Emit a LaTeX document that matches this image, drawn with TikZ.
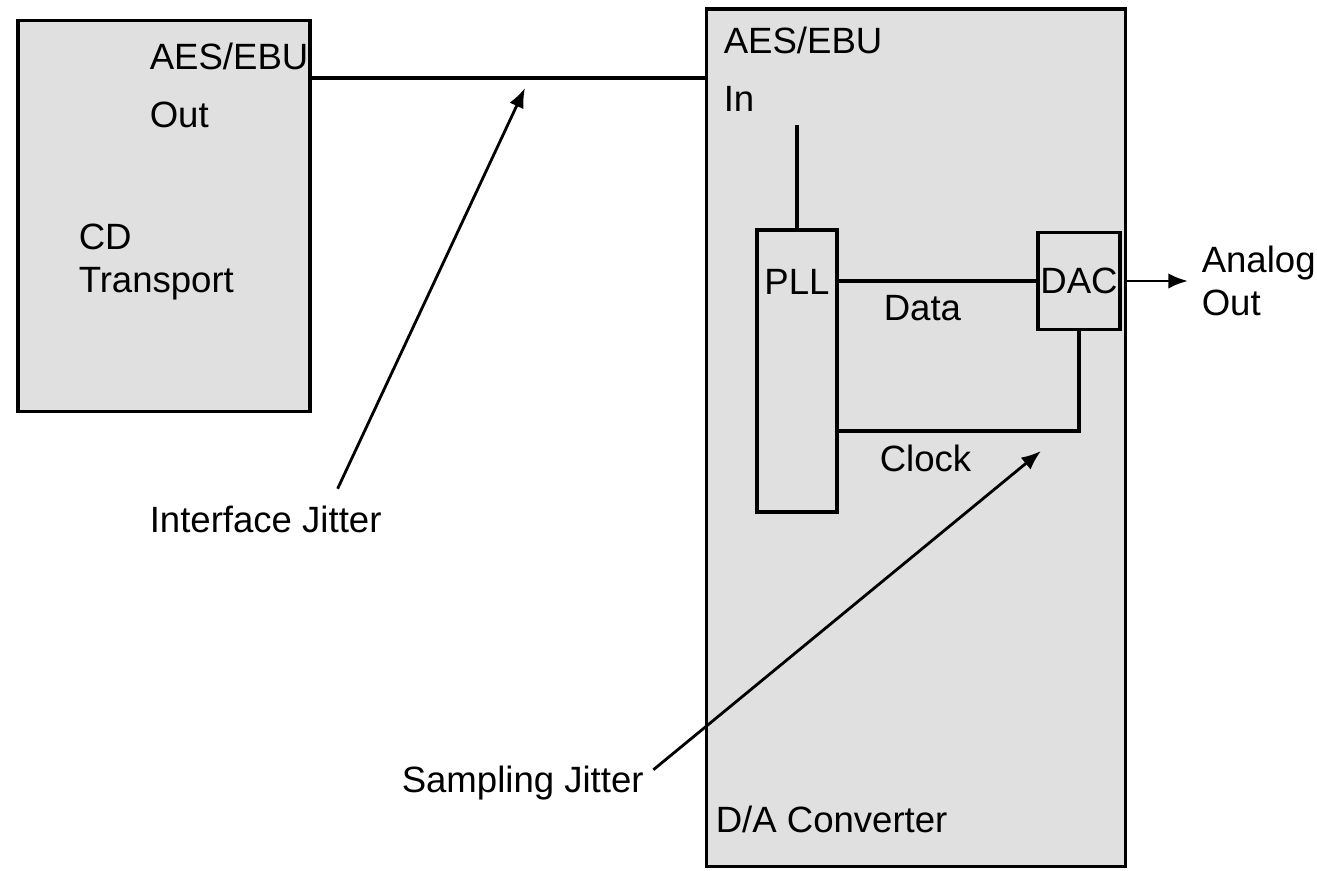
\documentclass[tikz,border=0pt]{standalone}
\usepackage{fontspec}
\setmainfont{Liberation Sans}
\usepackage{tikz}
\usetikzlibrary{shapes,arrows.meta,positioning}

\begin{document}
\begin{tikzpicture}[x=0.01cm, y=-0.01cm, line width=1pt, font=\fontsize{10.4}{12.5}\selectfont]
    % Styles
    \tikzstyle{unit}=[rectangle, draw=black, fill=black!12, inner sep=0pt]
    \tikzstyle{txt}=[inner sep=0pt, anchor=base west]
    \tikzstyle{arrow}=[-{Latex[length=5.6pt, width=4.4pt]}, line width=0.8pt]

    \useasboundingbox (0,0) rectangle (1317,871);

    % Boxes
    \node (cd) [unit, minimum width=2.92cm, minimum height=3.91cm] at (164,216) {};
    \node (da) [unit, minimum width=4.19cm, minimum height=8.57cm] at (916,438) {};
    \node (pll) [unit, minimum width=0.80cm, minimum height=2.82cm] at (797,371) {};
    \node (dac) [unit, minimum width=0.82cm, minimum height=0.97cm] at (1079,281) {DAC};

    % Texts
    \node (aesout) [txt] at (148,70) {AES/EBU};
    \node (out) [txt] at (148,128) {Out};
    \node (cdt) [txt, align=left] at (77,293) {CD\\Transport};
    \node (aesin) [txt] at (722,54) {AES/EBU};
    \node (in) [txt] at (722,112) {In};
    \node (plltxt) [inner sep=0pt, anchor=base] at (797,295) {PLL};
    \node (data) [txt] at (882,321) {Data};
    \node (clock) [txt] at (878,472) {Clock};
    \node (anout) [txt, align=left] at (1200,316) {Analog\\Out};
    \node (dacv) [txt] at (714,833) {D/A Converter};
    \node (ifj) [txt] at (148,533) {Interface Jitter};
    \node (sj) [txt] at (400,793) {Sampling Jitter};

    \coordinate (jack) at (308,78);
    \coordinate (intap) at (797,125);
    \coordinate (clk) at (837,431);
    \coordinate (ifjtip) at (525,88);
    \coordinate (sjtip) at (1041,451);

    % Connections
    \draw (jack) -- (jack -| da.west);
    \draw (intap) -- (pll.north);
    \draw (dac.west -| pll.east) -- (dac.west);
    \draw (dac.south) |- (clk);
    \draw [arrow] (dac.east -| da.east) -- ([xshift=-0.12cm]anout.west |- dac.east);
    \draw [arrow] ([shift={(72,-16)}]ifj.north) -- (ifjtip);
    \draw [arrow] ([shift={(8,5)}]sj.north east) -- (sjtip);
\end{tikzpicture}
\end{document}
